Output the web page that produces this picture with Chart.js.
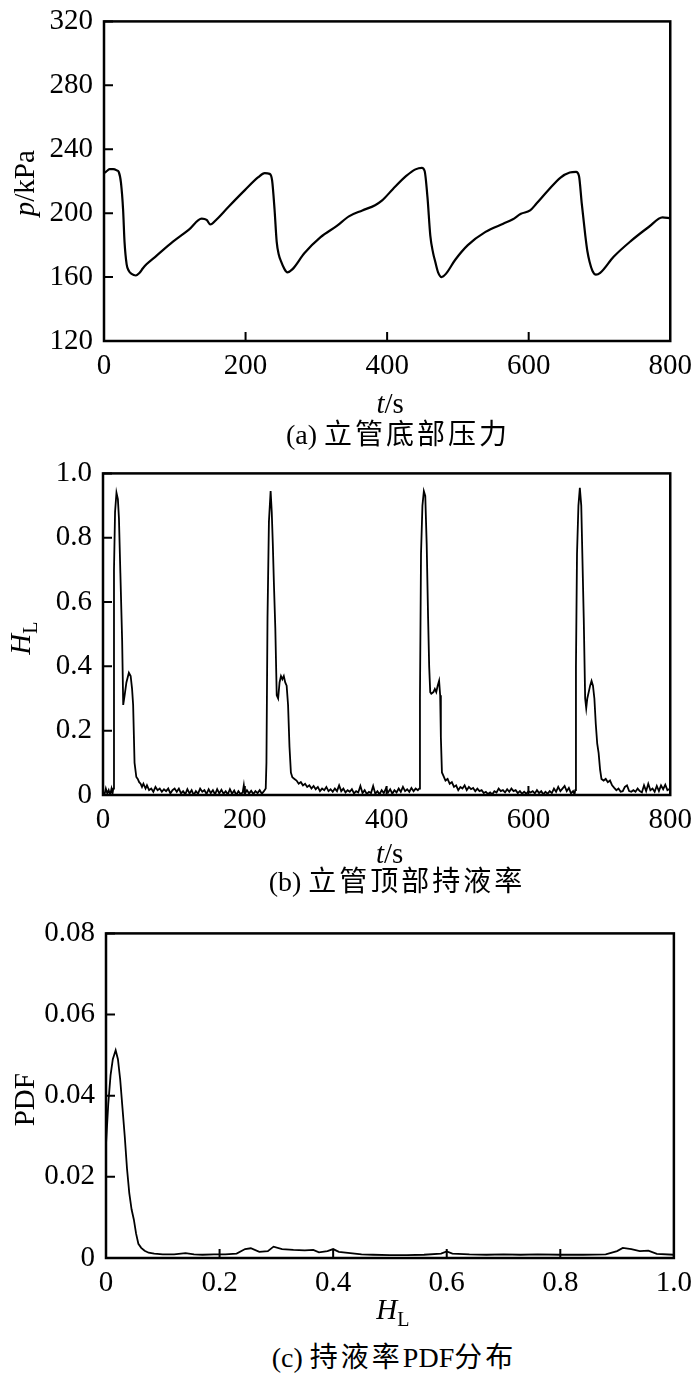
<!DOCTYPE html>
<html>
<head>
<meta charset="utf-8">
<script src="https://cdn.jsdelivr.net/npm/chart.js@4.4.1/dist/chart.umd.min.js"></script>
<style>
  html, body { margin: 0; padding: 0; background: #fff; overflow: hidden; }
  body { position: relative; width: 700px; height: 1373px; }
  .box { position: absolute; left: 0; width: 700px; }
  .cap { position: absolute; transform: translateX(-50%); white-space: nowrap;
         font: 28px "Liberation Serif", "Noto Sans CJK SC", serif; line-height: 32px; color: #000; }
  .cap span { letter-spacing: 3px; }
</style>
</head>
<body>
<div class="box" style="top:-7px;height:425px"><canvas id="chartA"></canvas></div>
<div class="box" style="top:445px;height:425px"><canvas id="chartB"></canvas></div>
<div class="box" style="top:905px;height:430px"><canvas id="chartC"></canvas></div>
<div class="cap" style="left:398px;top:419px">(a) <span>立管底部压力</span></div>
<div class="cap" style="left:397px;top:866px">(b) <span>立管顶部持液率</span></div>
<div class="cap" style="left:394px;top:1342px">(c) <span>持液率</span>PDF<span>分布</span></div>
<script>
// (a) riser bottom pressure, kPa
const tA = [0, 3, 8, 13, 18, 21, 24, 27, 29, 32, 35, 39, 45, 50, 55, 60, 74, 97, 120, 138,
  145, 150, 153, 159, 176, 199, 218, 227, 234, 237.5, 241, 244, 247, 250, 255, 259, 266, 283, 306, 329,
  346, 365, 383, 393, 408, 427, 440, 449, 453, 457, 461, 465, 468, 472, 477, 483, 496, 514, 539, 564,
  577, 589, 602, 611, 627, 645, 658, 667, 671, 675, 680, 683, 686, 690, 695, 701, 720, 745, 770, 789, 800];
const pA = [225, 226, 227.5, 227.6, 226.8, 225.6, 219, 202, 182, 168, 164, 162, 161, 162.5, 165.5, 168, 173.3, 182, 189.7, 196.6,
  195.8, 193, 193.5, 196, 204, 214.4, 222.5, 225, 224.6, 220.5, 202, 182, 174, 170, 165, 163, 164.8, 174.9, 185, 192,
  198, 201.7, 205, 208, 215, 223.3, 227.4, 228.4, 226.4, 210, 186, 175, 169.6, 163, 160, 162, 170.7, 180, 188.3, 193.4,
  196, 199.6, 201.7, 206, 214, 222.3, 225.4, 225.8, 223.4, 206, 186, 176, 169.6, 164, 161.5, 162.6, 172.7, 182.8, 191.5, 197.4, 196.8];

// (b) riser top liquid holdup
const tB = [0, 2, 4, 6, 8, 10, 12, 13.5, 14.5, 15.5, 17, 19, 21, 22.5, 24.5, 27, 28.5, 30.5, 33, 36.5,
  39, 41, 42.5, 44.5, 47, 49, 51, 53, 55, 57, 60, 62, 65, 68, 71, 74, 77, 80, 83, 86,
  89, 92, 95, 98, 101, 104, 107, 110, 113, 116, 119, 122, 125, 128, 131, 134, 137, 140, 143, 146,
  149, 152, 155, 158, 161, 164, 167, 170, 173, 176, 179, 182, 185, 188, 191, 194, 197, 198.6, 200, 203,
  206, 209, 212, 215, 218, 221, 224, 227, 229.5,
  230.5, 232, 234, 236.4, 238, 239.5, 241, 243, 245, 247, 249, 251, 253, 255, 257, 259, 261, 263, 265, 267,
  270, 273, 276, 279, 282, 285, 288, 291, 294, 297, 300, 303, 306, 309, 312, 315, 318, 321, 324, 327,
  330, 333, 336, 339, 342, 345, 348, 351, 354, 357, 360, 363, 366, 369, 372, 375, 378, 381, 384, 387,
  390, 393, 396, 399, 402, 405, 408, 411, 414, 417, 420, 423, 426, 429, 432, 435, 438, 441, 444, 446,
  447, 448.5, 450.5, 452.5, 454.5, 456.5, 458.5, 460, 461.5, 463, 466, 468, 470, 472, 474, 475.5, 476.5, 478, 480, 483,
  486, 489, 492, 495, 498, 501, 504, 507, 510, 513, 516, 519, 522, 525, 528, 531, 534, 537, 540, 543,
  546, 549, 552, 555, 558, 561, 564, 567, 570, 573, 576, 579, 582, 585, 588, 591, 594, 597, 600, 603,
  606, 609, 612, 615, 618, 621, 624, 627, 630, 633, 636, 639, 642, 645, 648, 651, 654, 657, 660, 663, 665, 666,
  667, 668.5, 670.5, 672.5, 674.5, 676, 678, 680, 681.5, 683, 685, 687, 689, 691, 693, 695, 697, 699, 701, 703,
  706, 709, 712, 715, 718, 721, 724, 727, 730, 733, 736, 739, 742, 745, 748, 751, 754, 757, 760, 763,
  766, 769, 772, 775, 778, 781, 784, 787, 790, 793, 796, 800];
const hB = [0.01, 0, 0.02, 0.005, 0.015, 0, 0.02, 0.005, 0.02, 0.7, 0.88, 0.94, 0.92, 0.86, 0.69, 0.48, 0.28, 0.31, 0.35, 0.38,
  0.37, 0.33, 0.28, 0.1, 0.056, 0.05, 0.04, 0.035, 0.025, 0.035, 0.02, 0.03, 0.015, 0.02, 0.01, 0.025, 0.015, 0.02, 0.01, 0.018,
  0.012, 0.02, 0.005, 0.015, 0.02, 0.01, 0.02, 0.005, 0.012, 0.002, 0.018, 0.005, 0.015, 0, 0.012, 0.004, 0.02, 0.01, 0.015, 0.003,
  0.018, 0.006, 0.015, 0.002, 0.018, 0.005, 0.016, 0.004, 0.012, 0.002, 0.018, 0.004, 0.014, 0, 0.012, 0.003, 0.008, 0.03, 0.004, 0.015,
  0.005, 0.013, 0.003, 0.012, 0.006, 0.015, 0.004, 0.012, 0.02,
  0.1, 0.55, 0.85, 0.945, 0.88, 0.78, 0.66, 0.52, 0.31, 0.3, 0.35, 0.37, 0.36, 0.37, 0.35, 0.34, 0.28, 0.15, 0.07, 0.055,
  0.05, 0.045, 0.035, 0.04, 0.03, 0.035, 0.025, 0.03, 0.02, 0.028, 0.018, 0.025, 0.012, 0.02, 0.015, 0.025, 0.012, 0.018, 0.01, 0.02,
  0.012, 0.03, 0.012, 0.02, 0.008, 0.015, 0.01, 0.018, 0.005, 0.012, 0.008, 0.028, 0.006, 0.015, 0.003, 0.01, 0.006, 0.028, 0.004, 0.012,
  0.002, 0.015, 0.006, 0.02, 0.008, 0.018, 0.004, 0.015, 0.008, 0.02, 0.01, 0.025, 0.012, 0.018, 0.01, 0.022, 0.012, 0.02, 0.015, 0.02,
  0.3, 0.75, 0.9, 0.945, 0.93, 0.78, 0.55, 0.4, 0.32, 0.315, 0.32, 0.33, 0.32, 0.34, 0.355, 0.31, 0.18, 0.07, 0.06, 0.045,
  0.05, 0.035, 0.04, 0.025, 0.03, 0.015, 0.025, 0.02, 0.03, 0.015, 0.025, 0.018, 0.022, 0.012, 0.02, 0.012, 0.015, 0.006, 0.01, 0.003,
  0.008, 0.002, 0.012, 0.008, 0.02, 0.012, 0.015, 0.008, 0.018, 0.01, 0.02, 0.012, 0.015, 0.006, 0.012, 0.004, 0.01, 0.004, 0.012, 0.008,
  0.012, 0.005, 0.015, 0.006, 0.012, 0.002, 0.01, 0.004, 0.012, 0.006, 0.02, 0.01, 0.025, 0.012, 0.02, 0.028, 0.012, 0.022, 0.005, 0.012, 0.002, 0.015,
  0.4, 0.75, 0.9, 0.955, 0.9, 0.75, 0.55, 0.3, 0.27, 0.3, 0.32, 0.34, 0.355, 0.34, 0.3, 0.22, 0.16, 0.13, 0.08, 0.05,
  0.045, 0.05, 0.04, 0.045, 0.03, 0.022, 0.015, 0.02, 0.01, 0.012, 0.025, 0.03, 0.012, 0.01, 0.015, 0.01, 0.02, 0.012, 0.008, 0.03,
  0.012, 0.035, 0.015, 0.02, 0.01, 0.028, 0.012, 0.03, 0.018, 0.032, 0.015, 0.02];

// (c) PDF of holdup
const hC = [0, 0.004, 0.008, 0.012, 0.017, 0.021, 0.025, 0.029, 0.033, 0.037, 0.041, 0.045, 0.049, 0.053, 0.057, 0.062, 0.068, 0.075, 0.085, 0.1,
  0.12, 0.14, 0.155, 0.17, 0.19, 0.21, 0.23, 0.245, 0.255, 0.27, 0.285, 0.295, 0.31, 0.33, 0.35, 0.365, 0.375, 0.39, 0.4, 0.41,
  0.43, 0.45, 0.47, 0.5, 0.53, 0.56, 0.59, 0.6, 0.61, 0.64, 0.67, 0.7, 0.73, 0.76, 0.8, 0.84, 0.88, 0.9, 0.91, 0.925,
  0.94, 0.955, 0.97, 1.0];
const pdfC = [0.028, 0.038, 0.045, 0.049, 0.0512, 0.049, 0.044, 0.037, 0.03, 0.022, 0.016, 0.012, 0.0095, 0.006, 0.0035, 0.0025, 0.0018, 0.0013, 0.0011, 0.0009,
  0.0009, 0.0012, 0.0009, 0.0008, 0.0009, 0.0009, 0.0011, 0.0022, 0.0024, 0.0015, 0.0017, 0.0028, 0.0022, 0.002, 0.0019, 0.002, 0.0014, 0.0017, 0.0022, 0.0015,
  0.0012, 0.0009, 0.0008, 0.0007, 0.0007, 0.0008, 0.0011, 0.0016, 0.0011, 0.0009, 0.0008, 0.0009, 0.0008, 0.0009, 0.0008, 0.0008, 0.0009, 0.0017, 0.0025, 0.0022,
  0.0017, 0.0018, 0.001, 0.0008];

// tick values and labels
const ticksTime = [0, 200, 400, 600, 800];
const labelsTime = ['0', '200', '400', '600', '800'];
const ticksP = [120, 160, 200, 240, 280, 320];
const labelsP = ['120', '160', '200', '240', '280', '320'];
const ticksH = [0, 0.2, 0.4, 0.6, 0.8, 1.0];
const labelsH = ['0', '0.2', '0.4', '0.6', '0.8', '1.0'];
const ticksPdf = [0, 0.02, 0.04, 0.06, 0.08];
const labelsPdf = ['0', '0.02', '0.04', '0.06', '0.08'];

Chart.defaults.font.family = '"Liberation Serif", "Times New Roman", serif';
Chart.defaults.font.size = 29;
Chart.defaults.color = '#000';

const SERIF = '"Liberation Serif", "Times New Roman", serif';

// draw a title made of pieces (italic / subscript) centred at 0,0
function drawParts(ctx, parts) {
  const fontOf = p => (p.italic ? 'italic ' : '') + (p.sub ? '20px ' : '29px ') + SERIF;
  let w = 0;
  parts.forEach(p => { ctx.font = fontOf(p); w += ctx.measureText(p.t).width; });
  let x = -w / 2;
  ctx.textBaseline = 'alphabetic';
  ctx.textAlign = 'left';
  parts.forEach(p => {
    ctx.font = fontOf(p);
    ctx.fillText(p.t, x, p.sub ? 17 : 10);
    x += ctx.measureText(p.t).width;
  });
}

const frame = {
  id: 'frame',
  afterDraw(chart, args, opts) {
    const { ctx, chartArea: a } = chart;
    const x = chart.scales.x, y = chart.scales.y;
    ctx.save();
    ctx.strokeStyle = '#000';
    ctx.fillStyle = '#000';
    ctx.lineWidth = 2.5;
    ctx.strokeRect(a.left, a.top, a.right - a.left, a.bottom - a.top);
    ctx.lineWidth = 2;
    ctx.beginPath();
    y.ticks.forEach(t => {
      const py = y.getPixelForValue(t.value);
      if (py < a.bottom - 2) { ctx.moveTo(a.left, py); ctx.lineTo(a.left + 9, py); }
    });
    x.ticks.forEach(t => {
      const px = x.getPixelForValue(t.value);
      if (px > a.left + 2 && px < a.right - 2) { ctx.moveTo(px, a.bottom); ctx.lineTo(px, a.bottom - 9); }
    });
    ctx.stroke();

    ctx.save();
    ctx.translate((a.left + a.right) / 2 + 3, a.bottom + opts.xTitleDy);
    drawParts(ctx, opts.xTitle);
    ctx.restore();

    ctx.save();
    ctx.translate(opts.yTitleX, (a.top + a.bottom) / 2 + opts.yTitleDy);
    ctx.rotate(-Math.PI / 2);
    drawParts(ctx, opts.yTitle);
    ctx.restore();
    ctx.restore();
  }
};

function makeChart(id, xs, ys, o) {
  const pts = xs.map((v, i) => ({ x: v, y: ys[i] }));
  return new Chart(document.getElementById(id), {
    type: 'line',
    data: {
      datasets: [{
        data: pts,
        borderColor: '#000',
        borderWidth: o.lineWidth,
        pointRadius: 0,
        tension: 0,
        cubicInterpolationMode: o.smooth ? 'monotone' : 'default'
      }]
    },
    options: {
      responsive: true,
      maintainAspectRatio: false,
      animation: false,
      events: [],
      layout: { padding: { top: o.padTop, right: o.padRight, left: 0, bottom: 0 } },
      plugins: {
        legend: { display: false },
        tooltip: { enabled: false },
        frame: { xTitle: o.xTitle, yTitle: o.yTitle, xTitleDy: o.xTitleDy, yTitleX: o.yTitleX, yTitleDy: o.yTitleDy }
      },
      scales: {
        x: {
          type: 'linear',
          min: o.xTicks[0], max: o.xTicks[o.xTicks.length - 1],
          grid: { display: false, drawTicks: false },
          border: { display: false },
          afterBuildTicks: s => { s.ticks = o.xTicks.map(v => ({ value: v })); },
          afterFit: s => { s.height = o.xHeight; },
          ticks: {
            padding: 8,
            maxRotation: 0,
            autoSkip: false,
            callback: (v) => o.xLabels[o.xTicks.indexOf(v)]
          }
        },
        y: {
          type: 'linear',
          min: o.yTicks[0], max: o.yTicks[o.yTicks.length - 1],
          grid: { display: false, drawTicks: false },
          border: { display: false },
          afterBuildTicks: s => { s.ticks = o.yTicks.map(v => ({ value: v })); },
          afterFit: s => { s.width = o.yWidth; },
          ticks: {
            padding: 11,
            autoSkip: false,
            callback: (v) => o.yLabels[o.yTicks.indexOf(v)]
          }
        }
      }
    },
    plugins: [frame]
  });
}

makeChart('chartA', tA, pA, {
  smooth: true, lineWidth: 2.2,
  padTop: 20, padRight: 22, yWidth: 104, xHeight: 77,
  xTicks: ticksTime, xLabels: labelsTime, yTicks: ticksP, yLabels: labelsP,
  xTitle: [{ t: 't', italic: true }, { t: '/s' }], xTitleDy: 62,
  yTitle: [{ t: 'p', italic: true }, { t: '/kPa' }], yTitleX: 24, yTitleDy: 2
});

makeChart('chartB', tB, hB, {
  smooth: false, lineWidth: 1.8,
  padTop: 22, padRight: 25, yWidth: 103, xHeight: 75,
  xTicks: ticksTime, xLabels: labelsTime, yTicks: ticksH, yLabels: labelsH,
  xTitle: [{ t: 't', italic: true }, { t: '/s' }], xTitleDy: 58,
  yTitle: [{ t: 'H', italic: true }, { t: 'L', sub: true }], yTitleX: 20, yTitleDy: 4
});

makeChart('chartC', hC, pdfC, {
  smooth: false, lineWidth: 1.8,
  padTop: 24, padRight: 22, yWidth: 106, xHeight: 77,
  xTicks: ticksH, xLabels: labelsH, yTicks: ticksPdf, yLabels: labelsPdf,
  xTitle: [{ t: 'H', italic: true }, { t: 'L', sub: true }], xTitleDy: 51,
  yTitle: [{ t: 'PDF' }], yTitleX: 24, yTitleDy: 4
});
</script>
</body>
</html>
